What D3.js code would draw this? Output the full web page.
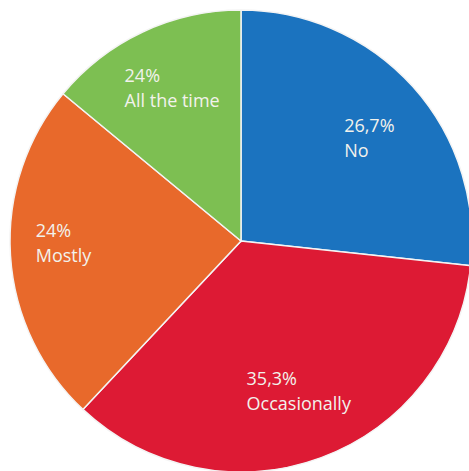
<!DOCTYPE html>
<html>
<head>
<meta charset="utf-8">
<script src="https://cdn.jsdelivr.net/npm/d3@7"></script>
<style>
  body { margin: 0; background: #fff; }
  svg { display: block; }
</style>
</head>
<body>
<svg id="chart"></svg>
<script>
// answers, in clockwise order from 12 o'clock
var categories = ["No", "Occasionally", "Mostly", "All the time"];
// slice sizes as drawn (the green one is drawn ~14% though it is labelled 24%)
var values = [26.7, 35.3, 24, 14];
var valueLabels = ["26,7%", "35,3%", "24%", "24%"];
var colors = ["#1b73bf", "#dd1a34", "#e8692b", "#7dbf52"];

var width = 469,
    height = 471;

var cx = 241, cy = 241,
    radius = 231;

// how far out each label block sits, and a small turn off the slice middle (degrees)
var labelRadii = [165, 160, 177, 168],
    labelTurn = [3, -1, 3, 1];

var svg = d3.select("#chart")
    .attr("width", width)
    .attr("height", height);

var g = svg.append("g")
    .attr("transform", "translate(" + cx + "," + cy + ")");

var pie = d3.pie()
    .sort(null)
    .value(function(d) { return d; });

var arc = d3.arc()
    .innerRadius(0)
    .outerRadius(radius);

var arcs = pie(values);

g.selectAll(".slice")
    .data(arcs)
  .enter().append("path")
    .attr("class", "slice")
    .attr("d", arc)
    .attr("fill", function(d, i) { return colors[i]; })
    .attr("stroke", "#f4f4f4")
    .attr("stroke-width", 1.5);

var labels = g.selectAll(".label")
    .data(arcs)
  .enter().append("text")
    .attr("class", "label")
    .attr("font-family", "'Open Sans', sans-serif")
    .attr("font-size", 18)
    .attr("fill", "#f2f2ec");

labels.append("tspan")
    .attr("x", 0)
    .attr("dy", 0)
    .text(function(d, i) { return valueLabels[i]; });

labels.append("tspan")
    .attr("x", 0)
    .attr("dy", 25)
    .text(function(d, i) { return categories[i]; });

// left-aligned block centred on a point along the slice's middle
labels.each(function(d, i) {
  var a = (d.startAngle + d.endAngle) / 2 + labelTurn[i] * Math.PI / 180,
      r = labelRadii[i],
      px = r * Math.sin(a),
      py = -r * Math.cos(a),
      bb = this.getBBox();
  d3.select(this).attr("transform",
      "translate(" + (px - bb.width / 2 - bb.x) + "," + (py - bb.height / 2 - bb.y) + ")");
});
</script>
</body>
</html>
